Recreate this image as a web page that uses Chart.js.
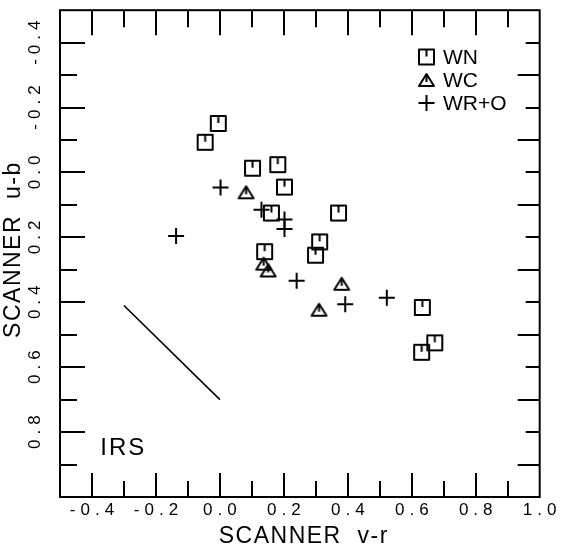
<!DOCTYPE html>
<html>
<head>
<meta charset="utf-8">
<script src="https://cdn.jsdelivr.net/npm/chart.js@4.4.1/dist/chart.umd.min.js"></script>
<style>
  html, body { margin: 0; padding: 0; background: #fff; }
  canvas { display: block; }
</style>
</head>
<body>
<canvas id="scanChart" width="562" height="551"></canvas>
<script>
// values (v-r on x, u-b on y)
const wnX = [-0.005, -0.046, 0.102, 0.181, 0.202, 0.161, 0.371, 0.312, 0.299, 0.140, 0.633, 0.672, 0.631];
const wnY = [-0.151, -0.093, -0.013, -0.024, 0.045, 0.125, 0.125, 0.214, 0.255, 0.244, 0.416, 0.525, 0.554];

const wcX = [0.082, 0.137, 0.151, 0.381, 0.310];
const wcY = [0.061, 0.281, 0.302, 0.343, 0.423];

const wrX = [0.002, 0.130, 0.202, 0.202, -0.137, 0.240, 0.392, 0.522];
const wrY = [0.046, 0.115, 0.145, 0.174, 0.196, 0.334, 0.406, 0.386];

// reddening line
const lineX = [-0.30, 0.00];
const lineY = [0.41, 0.70];

const xLabelValues = [-0.4, -0.2, 0.0, 0.2, 0.4, 0.6, 0.8, 1.0];
const yLabelValues = [-0.4, -0.2, 0.0, 0.2, 0.4, 0.6, 0.8];

const toPoints = (xs, ys) => xs.map((x, i) => ({ x: x, y: ys[i] }));

const TEXT_FONT = '"Liberation Sans", sans-serif';

// marker pictures
function makeSquare() {
  const c = document.createElement('canvas');
  c.width = 19; c.height = 19;
  const g = c.getContext('2d');
  g.strokeStyle = '#000';
  g.lineWidth = 2;
  g.lineJoin = 'round';
  g.strokeRect(2, 2, 15, 15);
  g.beginPath();
  g.moveTo(9.5, 2);
  g.lineTo(9.5, 9);
  g.stroke();
  return c;
}

function makeTriangle() {
  const c = document.createElement('canvas');
  c.width = 19; c.height = 16;
  const g = c.getContext('2d');
  g.strokeStyle = '#000';
  g.lineWidth = 2;
  g.lineJoin = 'round';
  g.beginPath();
  g.moveTo(9.5, 2);
  g.lineTo(17, 14);
  g.lineTo(2, 14);
  g.closePath();
  g.stroke();
  g.beginPath();
  g.moveTo(9.5, 2);
  g.lineTo(9.5, 10);
  g.stroke();
  return c;
}

const squareImg = makeSquare();
const triangleImg = makeTriangle();

function tickLabel(value, list) {
  const hit = list.find(v => Math.abs(v - value) < 1e-6);
  return hit === undefined ? '' : hit.toFixed(1);
}

// letter spacing for the tick labels drawn by chart.js
const spacing = {
  id: 'spacing',
  beforeUpdate(chart) {
    chart.ctx.letterSpacing = '5px';
  }
};

// box, inward ticks, titles, legend, IRS note
const decor = {
  id: 'decor',
  afterDraw(chart) {
    const ctx = chart.ctx;
    const a = chart.chartArea;
    const xs = chart.scales.x;
    const ys = chart.scales.y;

    ctx.save();
    ctx.strokeStyle = '#000';
    ctx.lineWidth = 2;
    ctx.strokeRect(a.left, a.top, a.right - a.left, a.bottom - a.top);

    const seg = (x1, y1, x2, y2) => {
      ctx.beginPath();
      ctx.moveTo(x1, y1);
      ctx.lineTo(x2, y2);
      ctx.stroke();
    };

    xs.ticks.forEach(t => {
      const k = Math.round(t.value * 10);
      if (k === -5 || k === 10) return;
      const px = Math.round(xs.getPixelForValue(t.value));
      const even = k % 2 === 0;
      seg(px, a.bottom, px, a.bottom - (even ? 24 : 16));
      seg(px, a.top, px, a.top + (even ? 25 : 17));
    });

    ys.ticks.forEach(t => {
      const k = Math.round(t.value * 10);
      if (k === -5 || k === 10) return;
      const py = Math.round(ys.getPixelForValue(t.value));
      const even = k % 2 === 0;
      seg(a.left, py, a.left + (even ? 25 : 17), py);
      seg(a.right, py, a.right - (even ? 14 : 22), py);
    });

    // axis titles
    ctx.fillStyle = '#000';
    ctx.textAlign = 'center';
    ctx.textBaseline = 'middle';
    ctx.font = '23px ' + TEXT_FONT;
    ctx.letterSpacing = '1.5px';
    ctx.wordSpacing = '8px';
    ctx.fillText('SCANNER v-r', (a.left + a.right) / 2 + 4, 537);
    ctx.save();
    ctx.translate(14, (a.top + a.bottom) / 2 - 4);
    ctx.rotate(-Math.PI / 2);
    ctx.fillText('SCANNER u-b', 0, 0);
    ctx.restore();

    // legend
    ctx.textAlign = 'left';
    ctx.wordSpacing = '0px';
    ctx.font = '21px ' + TEXT_FONT;
    ctx.letterSpacing = '0px';
    let row = 0;
    chart.data.datasets.forEach(ds => {
      if (!ds.inLegend) return;
      const cy = 57 + row * 23;
      const cx = 426.5;
      const st = ds.pointStyle;
      if (typeof st === 'object') {
        ctx.drawImage(st, cx - st.width / 2, cy - st.height / 2);
      } else {
        seg(cx - 8, cy, cx + 8, cy);
        seg(cx, cy - 8, cx, cy + 8);
      }
      ctx.fillText(ds.label, 443, cy + 1);
      row++;
    });

    // IRS note, placed in data coordinates
    ctx.font = '24px ' + TEXT_FONT;
    ctx.letterSpacing = '2px';
    ctx.fillText('IRS', xs.getPixelForValue(-0.374), ys.getPixelForValue(0.85));
    ctx.restore();
  }
};

const ctx = document.getElementById('scanChart').getContext('2d');

const scanChart = new Chart(ctx, {
  type: 'scatter',
  data: {
    datasets: [{
      label: 'WN',
      inLegend: true,
      data: toPoints(wnX, wnY),
      pointStyle: squareImg,
      pointRadius: 9,
      borderColor: '#000',
      backgroundColor: '#000'
    }, {
      label: 'WC',
      inLegend: true,
      data: toPoints(wcX, wcY),
      pointStyle: triangleImg,
      pointRadius: 9,
      borderColor: '#000',
      backgroundColor: '#000'
    }, {
      label: 'WR+O',
      inLegend: true,
      data: toPoints(wrX, wrY),
      pointStyle: 'cross',
      pointRadius: 8,
      borderWidth: 2,
      borderColor: '#000',
      backgroundColor: '#000'
    }, {
      label: 'reddening',
      type: 'line',
      data: toPoints(lineX, lineY),
      showLine: true,
      borderColor: '#000',
      borderWidth: 1.6,
      pointRadius: 0,
      fill: false
    }]
  },
  options: {
    responsive: false,
    animation: false,
    events: [],
    layout: { padding: { top: 8, right: 14, left: 0, bottom: 0 } },
    plugins: {
      legend: { display: false },
      tooltip: { enabled: false }
    },
    scales: {
      x: {
        type: 'linear',
        position: 'bottom',
        min: -0.5,
        max: 1.0,
        grid: { display: false, drawTicks: false },
        border: { display: false },
        ticks: {
          stepSize: 0.1,
          autoSkip: false,
          maxRotation: 0,
          minRotation: 0,
          padding: 3,
          labelOffset: 2.5,
          color: '#000',
          font: { size: 17, family: TEXT_FONT },
          callback: v => tickLabel(v, xLabelValues)
        },
        afterFit: s => { s.height = 54; }
      },
      y: {
        type: 'linear',
        position: 'left',
        reverse: true,
        min: -0.5,
        max: 1.0,
        grid: { display: false, drawTicks: false },
        border: { display: false },
        ticks: {
          stepSize: 0.1,
          autoSkip: false,
          minRotation: 90,
          crossAlign: 'center',
          padding: 0,
          labelOffset: -2.5,
          color: '#000',
          font: { size: 17, family: TEXT_FONT },
          callback: v => tickLabel(v, yLabelValues)
        },
        afterFit: s => { s.width = 60; }
      }
    }
  },
  plugins: [spacing, decor]
});
</script>
</body>
</html>
